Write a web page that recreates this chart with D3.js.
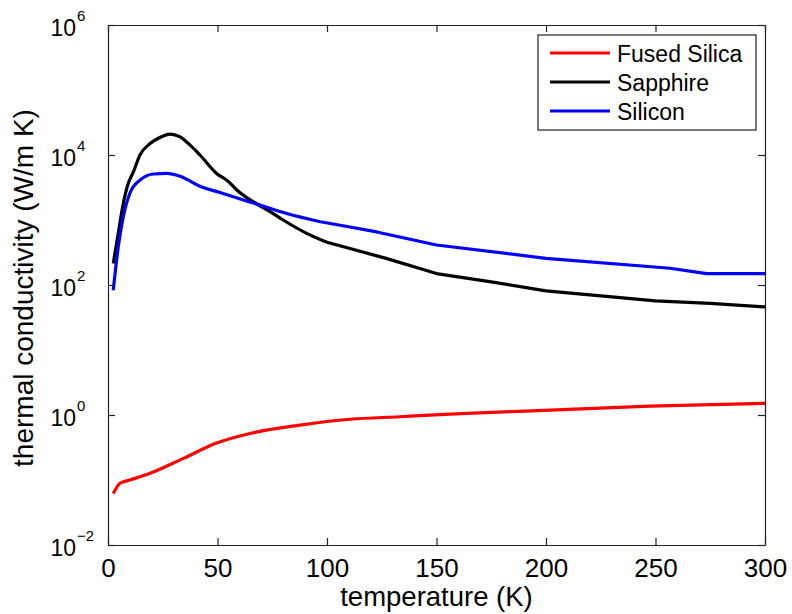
<!DOCTYPE html>
<html>
<head>
<meta charset="utf-8">
<script src="https://cdn.jsdelivr.net/npm/d3@7"></script>
<style>
  html, body { margin: 0; padding: 0; background: #fff; }
  svg { display: block; font-family: "Liberation Sans", Arial, sans-serif; }
</style>
</head>
<body>
<svg id="chart" width="792" height="614"></svg>
<script>
// Thermal conductivity vs temperature for three substrate materials
const silicaT = [2.4, 5.5, 10, 19.2, 34.4, 49.6, 64.8, 87.7, 110.5, 133.3, 156, 201.8, 247.5, 300];
const silicaK = [0.062, 0.089, 0.1, 0.127, 0.215, 0.37, 0.52, 0.70, 0.86, 0.94, 1.03, 1.19, 1.37, 1.51];

const sapphireT = [2.4, 4.7, 7, 9, 11.6, 14.6, 19.2, 23.7, 28.3, 32.9, 37.4, 42, 49.6, 55, 58.8, 66.4, 74, 80, 90.7, 100, 127, 150, 175, 200, 250, 275, 300];
const sapphireK = [215, 630, 1800, 3450, 5500, 10000, 15000, 18600, 21000, 19000, 14300, 10000, 5200, 3900, 2900, 1900, 1350, 1000, 624, 454, 257, 150, 112, 81, 57, 52, 46];

const siliconT = [2.4, 4.7, 7, 10, 14.6, 20.7, 26.8, 32.9, 42, 51.1, 66.4, 81.6, 97, 106, 122.7, 150, 200, 256.6, 273.4, 300];
const siliconK = [83, 390, 1130, 2580, 4100, 5100, 5200, 4700, 3300, 2640, 1820, 1260, 940, 830, 655, 412, 257, 181, 150, 150];

const seriesNames = ["Fused Silica", "Sapphire", "Silicon"];
const seriesColors = ["#ff0000", "#000000", "#0000ff"];

const xTicks = [0, 50, 100, 150, 200, 250, 300];
const yTickExps = [-2, 0, 2, 4, 6];

const svg = d3.select("#chart");
const plot = { left: 108, right: 765, top: 25, bottom: 545 };

const x = d3.scaleLinear().domain([0, 300]).range([plot.left, plot.right]);
const y = d3.scaleLog().domain([1e-2, 1e6]).range([plot.bottom, plot.top]);

const axisColor = "#222";

svg.append("clipPath").attr("id", "plotClip")
  .append("rect")
  .attr("x", plot.left).attr("y", plot.top)
  .attr("width", plot.right - plot.left).attr("height", plot.bottom - plot.top);

// Smooth curve through the cryogenic region, straight segments in the tabulated high-T range
const smoothLine = d3.line().x(d => x(d[0])).y(d => y(d[1])).curve(d3.curveMonotoneX);
const straightLine = d3.line().x(d => x(d[0])).y(d => y(d[1]));

const series = [
  { T: silicaT, K: silicaK, split: Infinity },
  { T: sapphireT, K: sapphireK, split: 100 },
  { T: siliconT, K: siliconK, split: 97 }
];

const linesG = svg.append("g").attr("clip-path", "url(#plotClip)");
series.forEach((s, i) => {
  const pts = s.T.map((t, j) => [t, s.K[j]]);
  const low = pts.filter(p => p[0] <= s.split);
  const high = pts.filter(p => p[0] >= s.split);
  let d = smoothLine(low);
  if (high.length > 1) d += straightLine(high).replace(/^M/, "L");
  linesG.append("path")
    .attr("d", d)
    .attr("fill", "none")
    .attr("stroke", seriesColors[i])
    .attr("stroke-width", 3.2)
    .attr("stroke-linejoin", "round")
    .attr("stroke-linecap", "butt");
});

// Frame and inward ticks on all four sides
const tickLen = 7;
const yTickVals = yTickExps.map(e => Math.pow(10, e));
const bottomAxis = d3.axisBottom(x).tickValues(xTicks).tickSizeInner(-tickLen).tickSizeOuter(0).tickFormat(d => d);
const topAxis = d3.axisTop(x).tickValues(xTicks).tickSizeInner(-tickLen).tickSizeOuter(0).tickFormat("");
const leftAxis = d3.axisLeft(y).tickValues(yTickVals).tickSizeInner(-tickLen).tickSizeOuter(0).tickFormat("");
const rightAxis = d3.axisRight(y).tickValues(yTickVals).tickSizeInner(-tickLen).tickSizeOuter(0).tickFormat("");

function styleAxis(g) {
  g.select(".domain").attr("stroke", axisColor).attr("stroke-width", 1.2);
  g.selectAll(".tick line").attr("stroke", axisColor).attr("stroke-width", 1.2);
}

const gb = svg.append("g").attr("transform", `translate(0,${plot.bottom})`).call(bottomAxis).call(styleAxis);
gb.selectAll(".tick text")
  .attr("y", 32).attr("dy", 0)
  .attr("fill", "#000")
  .style("font-size", "26px")
  .style("font-family", "'Liberation Sans', Arial, sans-serif");
svg.append("g").attr("transform", `translate(0,${plot.top})`).call(topAxis).call(styleAxis);
svg.append("g").attr("transform", `translate(${plot.left},0)`).call(leftAxis).call(styleAxis);
svg.append("g").attr("transform", `translate(${plot.right},0)`).call(rightAxis).call(styleAxis);

// Power-of-ten labels on the y axis
const yLab = svg.append("g");
yTickExps.forEach(e => {
  const yy = y(Math.pow(10, e));
  yLab.append("text")
    .attr("x", 76).attr("y", yy + 11)
    .attr("text-anchor", "end")
    .attr("fill", "#000")
    .style("font-size", "23px")
    .text("10");
  yLab.append("text")
    .attr("x", 77).attr("y", yy - 4)
    .attr("text-anchor", "start")
    .attr("fill", "#000")
    .style("font-size", "15px")
    .text(e < 0 ? "\u2212" + Math.abs(e) : String(e));
});

// Axis titles
svg.append("text")
  .attr("x", (plot.left + plot.right) / 2).attr("y", 606)
  .attr("text-anchor", "middle")
  .attr("fill", "#000")
  .style("font-size", "27.5px")
  .text("temperature (K)");

svg.append("text")
  .attr("transform", `translate(33,${(plot.top + plot.bottom) / 2 + 3}) rotate(-90)`)
  .attr("text-anchor", "middle")
  .attr("fill", "#000")
  .style("font-size", "28px")
  .text("thermal conductivity (W/m K)");

// Legend
const legend = svg.append("g");
legend.append("rect")
  .attr("x", 538).attr("y", 35).attr("width", 218).attr("height", 95)
  .attr("fill", "#fff").attr("stroke", axisColor).attr("stroke-width", 1.2);
const rowY = [53, 82, 111];
seriesNames.forEach((name, i) => {
  legend.append("line")
    .attr("x1", 550).attr("x2", 610)
    .attr("y1", rowY[i]).attr("y2", rowY[i])
    .attr("stroke", seriesColors[i]).attr("stroke-width", 3.2);
  legend.append("text")
    .attr("x", 617).attr("y", rowY[i] + 9)
    .attr("fill", "#000")
    .style("font-size", "23px")
    .text(name);
});
</script>
</body>
</html>
